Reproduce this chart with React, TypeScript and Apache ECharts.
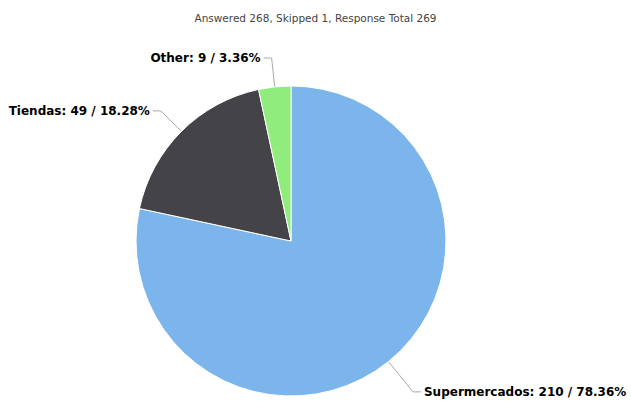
import React, { useEffect, useRef } from "react";
import * as echarts from "echarts";

const categories = ["Supermercados", "Tiendas", "Other"];
const values = [210, 49, 9];
const colors = ["#7cb5ec", "#434348", "#90ed7d"];
const lineLengths = [39, 29, 29];
const titleText = "Answered 268, Skipped 1, Response Total 269";

export default function App() {
  const ref = useRef<HTMLDivElement>(null);
  useEffect(() => {
    document.body.style.margin = "0";
    const chart = echarts.init(ref.current!, null, { renderer: "svg" });
    chart.setOption({
      animation: false,
      title: {
        text: titleText,
        left: "center",
        top: 7,
        textStyle: { fontFamily: "DejaVu Sans", fontSize: 10.5, fontWeight: "normal", color: "#444" },
      },
      series: [
        {
          type: "pie",
          center: [291, 241],
          radius: 155,
          startAngle: 90,
          clockwise: true,
          avoidLabelOverlap: false,
          data: categories.map((c, i) => ({
            name: c,
            value: values[i],
            itemStyle: { color: colors[i] },
            labelLine: { length: lineLengths[i] },
          })),
          itemStyle: { borderColor: "#fff", borderWidth: 1 },
          label: {
            formatter: "{b}: {c} / {d}%",
            fontFamily: "DejaVu Sans",
            fontSize: 12,
            fontWeight: "bold",
            color: "#000",
            distanceToLabelLine: 3,
            overflow: "none",
            edgeDistance: 0,
            bleedMargin: 0,
          },
          labelLine: { length2: 8, lineStyle: { color: "#aaa", width: 1 }, smooth: false },
        },
      ],
    });
    return () => chart.dispose();
  }, []);
  return <div ref={ref} style={{ width: 631, height: 402 }} />;
}
